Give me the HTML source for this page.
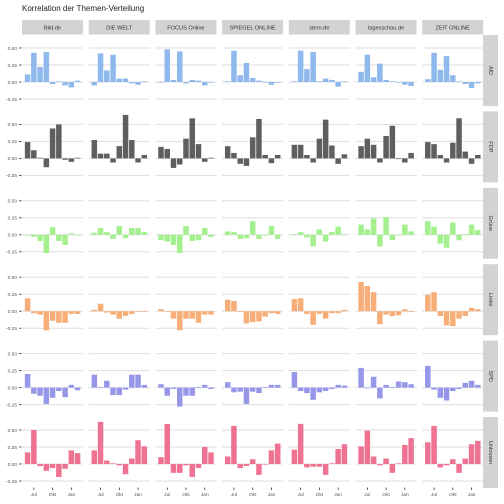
<!DOCTYPE html>
<html><head><meta charset="utf-8"><style>
body{margin:0;background:#fff;}
svg{display:block;font-family:"Liberation Sans",sans-serif;}
</style></head><body>
<svg id="chart" width="504" height="504" viewBox="0 0 504 504" xmlns="http://www.w3.org/2000/svg">
<text x="22" y="11" font-size="8" fill="#222">Korrelation der Themen-Verteilung</text>
</svg>
<script>
const sources = ["Bild.de","DIE WELT","FOCUS Online","SPIEGEL ONLINE","stern.de","tagesschau.de","ZEIT ONLINE"];
const parties = ["AfD","FDP","Grüne","Linke","SPD","Unknown"];
const partyColors = ["#8fb8ec","#5f5f5f","#a4f08e","#f7ae78","#9797ea","#ee7292"];
const yTicks = [0.5,0.25,0,-0.25];
const yTickLabels = ["0.50","0.25","0.00","-0.25"];
const xTickMonths = [1,4,7];
const xTickLabels = ["Jul","Okt","Jan"];
const valsAfD = [
[0.11,0.43,0.22,0.44,-0.03,0.01,-0.05,-0.08,0.02],
[-0.05,0.42,0.17,0.40,0.05,0.05,-0.02,-0.04,0.01],
[-0.01,0.48,0.03,0.45,-0.02,0.03,0.02,-0.05,-0.01],
[0.01,0.46,0.10,0.28,0.06,0.02,-0.01,-0.04,-0.01],
[0.01,0.46,0.19,0.44,0.01,0.05,0.03,-0.07,0.01],
[0.15,0.40,0.07,0.27,0.03,0.01,-0.01,-0.04,-0.06],
[0.04,0.43,0.18,0.38,0.10,0.01,-0.03,-0.09,-0.02]];
const valsFDP = [
[0.24,0.12,0.01,-0.13,0.44,0.50,-0.02,-0.05,0.01],
[0.27,0.07,0.07,-0.06,0.18,0.64,0.27,-0.06,0.05],
[0.17,0.14,-0.14,-0.09,0.29,0.59,0.21,-0.05,0.01],
[0.18,0.08,-0.08,-0.11,0.31,0.58,0.05,-0.07,0.05],
[0.20,0.20,0.05,-0.06,0.29,0.57,0.19,-0.08,0.06],
[0.18,0.29,0.20,-0.06,0.33,0.48,-0.01,-0.06,0.08],
[0.24,0.21,0.05,-0.06,0.23,0.59,0.10,-0.08,0.05]];
const valsGruene = [
[0.00,-0.03,-0.09,-0.27,0.11,-0.09,-0.15,0.02,-0.01],
[0.03,0.10,0.04,-0.06,0.13,-0.05,0.10,0.10,0.04],
[-0.08,-0.10,-0.15,-0.27,0.13,-0.09,-0.08,0.10,-0.03],
[0.05,0.04,-0.06,-0.05,0.20,-0.06,-0.01,0.13,-0.06],
[0.01,0.04,-0.04,-0.17,0.08,-0.10,0.04,0.12,0.01],
[0.15,0.08,0.24,-0.17,0.26,-0.08,0.00,0.15,0.05],
[0.20,0.12,-0.13,-0.19,0.18,-0.08,0.01,0.15,0.07]];
const valsLinke = [
[0.19,-0.03,-0.05,-0.28,-0.14,-0.17,-0.17,-0.04,-0.04],
[0.02,0.11,-0.02,-0.05,-0.11,-0.07,-0.04,0.00,-0.01],
[0.03,0.00,-0.11,-0.28,-0.11,-0.11,-0.17,-0.05,-0.05],
[0.17,0.15,-0.01,-0.18,-0.16,-0.15,-0.08,-0.03,-0.04],
[0.18,0.19,-0.04,-0.20,-0.04,-0.11,-0.03,-0.03,0.02],
[0.43,0.37,0.28,-0.19,-0.05,-0.07,-0.06,0.03,-0.01],
[0.24,0.28,-0.07,-0.21,-0.22,-0.11,-0.07,0.05,0.03]];
const valsSPD = [
[0.20,-0.09,-0.12,-0.24,-0.15,-0.05,-0.14,0.04,-0.04],
[0.19,0.01,0.10,-0.11,-0.11,-0.03,0.19,0.19,0.04],
[0.05,-0.12,-0.02,-0.28,-0.12,-0.12,0.01,0.04,-0.02],
[0.08,-0.07,-0.06,-0.24,-0.06,-0.08,0.01,0.04,0.04],
[0.23,-0.05,-0.08,-0.18,-0.07,-0.05,-0.02,0.04,0.03],
[0.29,-0.01,0.16,-0.16,0.04,0.01,0.09,0.08,0.05],
[0.32,-0.03,-0.15,-0.19,-0.05,-0.02,0.07,0.10,0.04]];
const valsUnknown = [
[0.17,0.50,-0.03,-0.10,-0.06,-0.19,-0.07,0.20,0.16],
[0.20,0.62,0.05,0.01,-0.02,-0.15,0.08,0.35,0.26],
[0.10,0.59,-0.13,-0.13,-0.02,-0.19,-0.06,0.25,0.17],
[0.11,0.56,-0.06,-0.03,0.07,-0.16,0.00,0.20,0.30],
[0.21,0.59,-0.05,-0.04,-0.04,-0.16,0.01,0.22,0.29],
[0.26,0.49,0.11,-0.02,0.08,-0.13,0.01,0.28,0.38],
[0.32,0.56,-0.05,-0.02,0.07,-0.13,0.08,0.29,0.34]];
const allVals = [valsAfD,valsFDP,valsGruene,valsLinke,valsSPD,valsUnknown];

const svg = document.getElementById('chart');
const NS = 'http://www.w3.org/2000/svg';
function mk(tag, attrs, parent){const e=document.createElementNS(NS,tag);for(const k in attrs)e.setAttribute(k,attrs[k]);(parent||svg).appendChild(e);return e;}
const colLeft = c => 22 + c*66.7;
const panelW = 61;
const zeroY = r => 82 + r*76.4;
const yScale = (r,v) => zeroY(r) - v*68;
const xScale = (c,m) => colLeft(c) + 5.6 + m*6.25;
const barW = 5.5;

sources.forEach((s,c)=>{
  const st = mk('rect',{x:colLeft(c),y:20,width:panelW,height:14.5,fill:'#d3d3d3'});
  
  
  const t = mk('text',{x:colLeft(c)+panelW/2,y:29.7,'font-size':5.6,'text-anchor':'middle',fill:'#333'});
  t.textContent = s;
  
  
});

parties.forEach((p,r)=>{
  const top = zeroY(r)-47;
  const strip = mk('rect',{x:483,y:top,width:15,height:71,fill:'#d3d3d3'});
  
  
  const cx=490.5, cy=top+35.5;
  const t = mk('text',{x:cx,y:cy,'font-size':5.6,'text-anchor':'middle','dominant-baseline':'middle',fill:'#333',transform:`rotate(90 ${cx} ${cy})`});
  t.textContent = p;
  
  
  yTicks.forEach((v,i)=>{
    const y = yScale(r,v);
    const lab = mk('text',{x:17,y:y+1.8,'font-size':4.8,'text-anchor':'end',fill:'#555'});
    lab.textContent = yTickLabels[i];
    
    
    const tk = mk('line',{x1:19,x2:21.5,y1:y,y2:y,stroke:'#333','stroke-width':0.8});
    
    
  });
  sources.forEach((s,c)=>{
    yTicks.forEach(v=>{
      const y = yScale(r,v);
      const g = mk('line',{x1:colLeft(c),x2:colLeft(c)+panelW,y1:y,y2:y,stroke:'#dedede','stroke-width':1});
      
      
    });
    allVals[r][c].forEach((v,m)=>{
      const y0 = yScale(r,0), y1 = yScale(r,v);
      const b = mk('rect',{x:xScale(c,m)-barW/2,y:Math.min(y0,y1),width:barW,height:Math.max(0.6,Math.abs(y1-y0)),fill:partyColors[r]});
      
      
    });
  });
});

sources.forEach((s,c)=>{
  xTickMonths.forEach((m,i)=>{
    const x = xScale(c,m);
    const tk = mk('line',{x1:x,x2:x,y1:487.5,y2:490,stroke:'#333','stroke-width':0.8});
    
    
    const t = mk('text',{x:x,y:496,'font-size':4.8,'text-anchor':'middle',fill:'#555'});
    t.textContent = xTickLabels[i];
    
    
  });
});
</script>
</body></html>
